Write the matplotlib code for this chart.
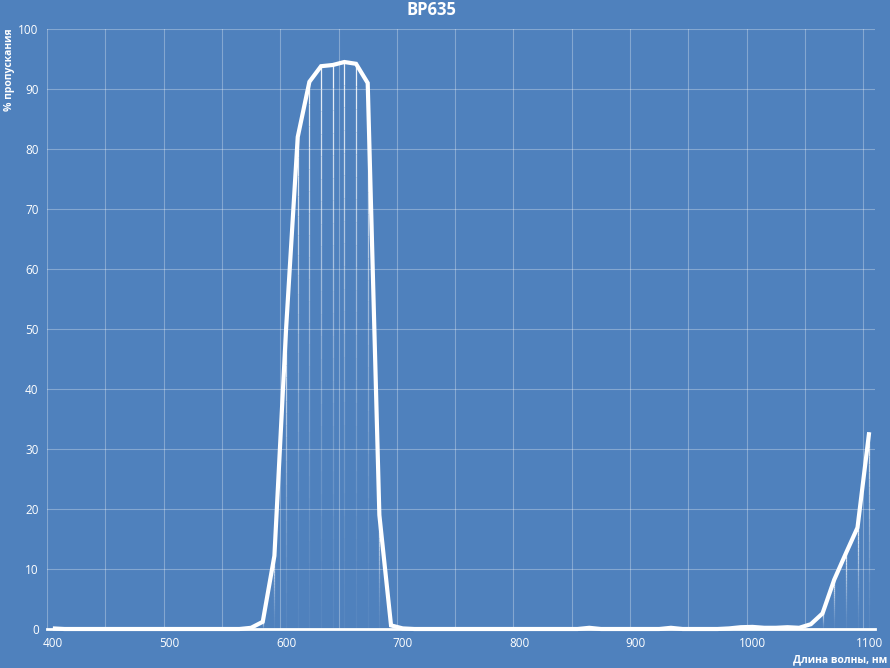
import numpy as np
import matplotlib
matplotlib.use("Agg")
import matplotlib.pyplot as plt
from matplotlib.collections import LineCollection

# wavelength, nm (category axis, step 10)
wavelength = list(range(400, 1101, 10))
transmission = [
    0.1, 0.0, 0.0, 0.0, 0.0, 0.0, 0.0, 0.0, 0.0, 0.0,   # 400-490
    0.0, 0.0, 0.0, 0.0, 0.0, 0.0, 0.0, 0.2, 1.2, 12.2,  # 500-590
    50.0, 82.0, 91.2, 93.8, 94.0, 94.5, 94.2, 91.0, 19.0, 0.6,  # 600-690
    0.1, 0.0, 0.0, 0.0, 0.0, 0.0, 0.0, 0.0, 0.0, 0.0,   # 700-790
    0.0, 0.0, 0.0, 0.0, 0.0, 0.0, 0.2, 0.0, 0.0, 0.0,   # 800-890
    0.0, 0.0, 0.0, 0.2, 0.0, 0.0, 0.0, 0.0, 0.1, 0.3,   # 900-990
    0.35, 0.2, 0.2, 0.3, 0.2, 0.8, 2.6, 8.2, 12.6, 16.9, # 1000-1090
    32.8,                                               # 1100
]
x_ticks = [400, 500, 600, 700, 800, 900, 1000, 1100]
y_ticks = list(range(0, 101, 10))

bg = "#4f81bd"
font = ["Open Sans", "DejaVu Sans"]

fig = plt.figure(figsize=(8.9, 6.68), dpi=100, facecolor=bg)
ax = fig.add_axes([47 / 890, 39 / 668, 828 / 890, 600 / 668], facecolor=bg)

ax.set_xlim(395, 1105)
ax.set_ylim(0, 100)

# grid
for gx in range(395, 1106, 50):
    ax.axvline(gx, color="white", alpha=0.3, lw=0.8, zorder=1)
for gy in y_ticks[1:]:
    ax.axhline(gy, color="white", alpha=0.3, lw=0.8, zorder=1)

# drop lines fading towards the bottom
segs, cols = [], []
n = 25
for xv, yv in zip(wavelength, transmission):
    if yv < 1:
        continue
    edges = np.linspace(0, yv, n + 1)
    for i in range(n):
        segs.append([(xv, edges[i]), (xv, edges[i + 1])])
        cols.append((1, 1, 1, 0.05 + 0.9 * (i / n) ** 1.5))
ax.add_collection(LineCollection(segs, colors=cols, linewidths=0.9, zorder=2))

ax.axhline(0, color="white", lw=2, zorder=3, clip_on=False)
ax.plot(wavelength, transmission, color="white", lw=3, solid_joinstyle="miter",
        solid_capstyle="butt", zorder=3, clip_on=False)

for s in ax.spines.values():
    s.set_visible(False)

ax.set_xticks(x_ticks)
ax.set_yticks(y_ticks)
ax.tick_params(length=0, colors="white", labelsize=8.5, pad=6)
for lab in ax.get_xticklabels() + ax.get_yticklabels():
    lab.set_family(font)

fig.text(431 / 890, 1 - 10 / 668, "BP635", color="white", fontsize=12,
         fontweight="bold", ha="center", va="center", family=font)
fig.text(10 / 890, 1 - 28 / 668, "% пропускания", color="white", fontsize=7.5,
         fontweight="bold", rotation=90, ha="center", va="top", family=font)
fig.text(887 / 890, 1 - 660 / 668, "Длина волны, нм", color="white", fontsize=7.5,
         fontweight="bold", ha="right", va="center", family=font)

fig.savefig("out.png", dpi=100, facecolor=bg)
